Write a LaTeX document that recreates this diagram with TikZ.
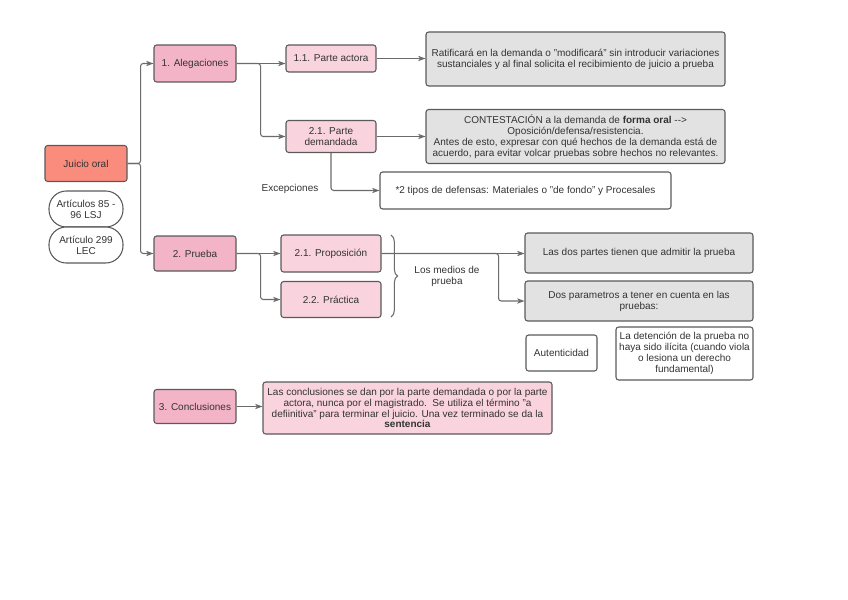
\documentclass[tikz,border=0pt]{standalone}
\usepackage{fontspec}
\setmainfont{Liberation Sans}
\usepackage{xcolor}
\usepackage{tikz}
\usetikzlibrary{positioning,calc,shapes,arrows.meta,decorations.pathreplacing}

\definecolor{salmon}{HTML}{FA8C7E}
\definecolor{rosa}{HTML}{F4B4C8}
\definecolor{rosaclaro}{HTML}{F9D3DE}
\definecolor{gris}{HTML}{E2E2E2}
\definecolor{borde}{HTML}{5A5A5A}
\definecolor{linea}{HTML}{6B6B6B}
\definecolor{texto}{HTML}{333333}

\tikzset{
  caja/.style={draw=borde, line width=0.8pt, rounded corners=2pt, align=center,
    inner sep=1pt, text=texto, font=\fontsize{7.5}{8.2}\selectfont},
  raiz/.style={caja, fill=salmon},
  tema/.style={caja, fill=rosa},
  sub/.style={caja, fill=rosaclaro},
  nota/.style={caja, fill=gris},
  blanca/.style={caja, fill=white},
  pildora/.style={caja, fill=white, rounded corners=13pt},
  etiqueta/.style={align=center, text=texto, font=\fontsize{7.5}{8.2}\selectfont},
  linea/.style={draw=linea, line width=0.8pt, rounded corners=2pt},
  flecha/.style={linea, -{Stealth[length=5.5pt,width=4pt,inset=1.5pt]}}
}

\begin{document}
\begin{tikzpicture}[x=0.75pt,y=-0.75pt]
  \useasboundingbox (0,0) rectangle (848,599);

  % raiz
  \node[raiz, minimum width=61.5pt, minimum height=27pt] (juicio) at (86,163.5) {Juicio oral};
  \node[pildora, minimum width=55.5pt, minimum height=27pt] (art1) at (86,209) {Artículos 85 -\\96 LSJ};
  \node[pildora, minimum width=55.5pt, minimum height=27pt] (art2) at (86,245) {Artículo 299\\LEC};

  % 1. alegaciones
  \node[tema, minimum width=61.5pt, minimum height=27.75pt] (aleg) at (195,63.5) {1. Alegaciones};
  \node[sub, minimum width=67.5pt, minimum height=20.25pt] (actora) at (331,58.5) {1.1. Parte actora};
  \node[sub, minimum width=67.5pt, minimum height=24pt] (demandada) at (331,136.5) {2.1. Parte\\demandada};
  \node[nota, minimum width=224.25pt, minimum height=40.5pt] (ratif) at (575.5,59)
    {Ratificará en la demanda o "modificará" sin introducir variaciones\\sustanciales y al final solicita el recibimiento de juicio a prueba};
  \node[nota, minimum width=224.25pt, minimum height=40.5pt] (contest) at (575.5,136.5)
    {CONTESTACIÓN a la demanda de \textbf{forma oral} -{}->\\Oposición/defensa/resistencia.\\Antes de esto, expresar con qué hechos de la demanda está de\\acuerdo, para evitar volcar pruebas sobre hechos no relevantes.};
  \node[blanca, minimum width=218.25pt, minimum height=27.75pt] (tipos) at (525.5,190.5)
    {*2 tipos de defensas: Materiales o "de fondo" y Procesales};
  \node[etiqueta] (excep) at (290,189) {Excepciones};

  % 2. prueba
  \node[tema, minimum width=61.5pt, minimum height=26.25pt] (prueba) at (195,253.5) {2. Prueba};
  \node[sub, minimum width=75pt, minimum height=27.75pt] (propos) at (331,253.5) {2.1. Proposición};
  \node[sub, minimum width=75pt, minimum height=27pt] (practica) at (331,299.5) {2.2. Práctica};
  \node[etiqueta] (medios) at (447,276) {Los medios de\\prueba};
  \node[nota, minimum width=171pt, minimum height=30pt] (dospartes) at (639,253)
    {Las dos partes tienen que admitir la prueba};
  \node[nota, minimum width=171pt, minimum height=30pt] (param) at (639,301)
    {Dos parametros a tener en cuenta en las\\pruebas:};
  \node[blanca, minimum width=53.25pt, minimum height=27pt] (autent) at (561.5,353) {Autenticidad};
  \node[blanca, minimum width=102.75pt, minimum height=39.75pt] (detencion) at (684.5,353.5)
    {La detención de la prueba no\\haya sido ilícita (cuando viola\\o lesiona un derecho\\fundamental)};

  % 3. conclusiones
  \node[tema, minimum width=61.5pt, minimum height=25.5pt] (concl) at (195,406.5) {3. Conclusiones};
  \node[sub, minimum width=216.75pt, minimum height=39pt] (conclnota) at (407.5,408)
    {Las conclusiones se dan por la parte demandada o por la parte\\actora, nunca por el magistrado.\ \ Se utiliza el término "a\\defiinitiva" para terminar el juicio. Una vez terminado se da la\\\textbf{sentencia}};

  % conectores
  \draw[flecha] (juicio.east) -- ++(13,0) |- (aleg.west);
  \draw[flecha] (juicio.east) -- ++(13,0) |- (prueba.west);
  \draw[flecha] (aleg.east) -- (aleg.east -| actora.west);
  \draw[flecha] (aleg.east) -- ++(24,0) |- (demandada.west);
  \draw[flecha] (actora.east) -- (actora.east -| ratif.west);
  \draw[flecha] (demandada.east) -- (contest.west);
  \draw[flecha] (demandada.south) |- (tipos.west);
  \draw[flecha] (prueba.east) -- (propos.west);
  \draw[flecha] (prueba.east) -- ++(24,0) |- (practica.west);
  \draw[flecha] (propos.east) -- (propos.east -| dospartes.west);
  \draw[flecha] (propos.east) -- ++(117,0) |- (param.west);
  \draw[flecha] (concl.east) -- (concl.east -| conclnota.west);
  \draw[linea, rounded corners=0pt, decorate, decoration={brace, amplitude=5pt}] (391,235) -- (391,317);
\end{tikzpicture}
\end{document}
